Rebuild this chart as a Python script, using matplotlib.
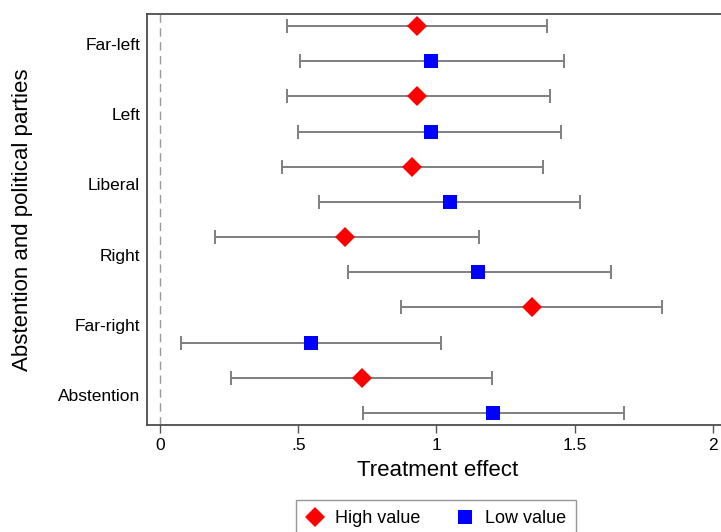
import matplotlib
matplotlib.use("Agg")
import matplotlib.pyplot as plt
import numpy as np

plt.rcParams['font.family'] = ['Liberation Sans', 'DejaVu Sans']

categories = ["Abstention", "Far-right", "Right", "Liberal", "Left", "Far-left"]
high_est = [0.732, 1.344, 0.67, 0.91, 0.93, 0.93]
high_lo = [0.256, 0.87, 0.20, 0.44, 0.46, 0.46]
high_hi = [1.20, 1.817, 1.155, 1.385, 1.41, 1.40]
low_est = [1.205, 0.546, 1.15, 1.05, 0.98, 0.98]
low_lo = [0.733, 0.075, 0.68, 0.575, 0.50, 0.505]
low_hi = [1.678, 1.016, 1.63, 1.52, 1.45, 1.46]
xticks = [0, 0.5, 1, 1.5, 2]
xticklabels = ["0", ".5", "1", "1.5", "2"]

W, H = 721, 532
fig = plt.figure(figsize=(W/100, H/100), dpi=100)
ax = fig.add_axes([147/W, 1-425/H, (724-147)/W, (425-14)/H])

pos = np.arange(len(categories))
off = 0.25
ecol = '#7f7f7f'

ax.axvline(0, color='#999999', ls=(0, (6, 4)), lw=1.0, zorder=1)

hy = pos + off
ly = pos - off
ax.errorbar(high_est, hy, xerr=[np.array(high_est)-np.array(high_lo), np.array(high_hi)-np.array(high_est)],
            fmt='none', ecolor=ecol, elinewidth=1.4, capsize=4.7, capthick=1.4, zorder=2)
ax.errorbar(low_est, ly, xerr=[np.array(low_est)-np.array(low_lo), np.array(low_hi)-np.array(low_est)],
            fmt='none', ecolor=ecol, elinewidth=1.4, capsize=4.7, capthick=1.4, zorder=2)
ax.plot(high_est, hy, 'D', color='#ff0000', markersize=10.5, markeredgewidth=0, zorder=3, label='High value')
ax.plot(low_est, ly, 's', color='#0000ff', markersize=10.5, markeredgewidth=0, zorder=3, label='Low value')

ax.set_xlim(-0.047, 2.04)
ax.set_ylim(-0.42, 5.42)
ax.set_yticks(pos)
ax.set_yticklabels(categories, fontsize=12.5)
ax.set_xticks(xticks)
ax.set_xticklabels(xticklabels, fontsize=12.5)
ax.tick_params(axis='y', length=0, pad=5)
ax.tick_params(axis='x', length=6, width=1.0, color='#555555', pad=3)
for s in ax.spines.values():
    s.set_color('#4d4d4d')
    s.set_linewidth(1.3)

ax.set_xlabel("Treatment effect", fontsize=16)
ax.xaxis.set_label_coords(0.503, -0.085)
ax.set_ylabel("Abstention and political parties", fontsize=16)
ax.yaxis.set_label_coords(-0.197, 0.5)

leg = fig.legend(loc='upper center', bbox_to_anchor=(436/W, 1-500/H), ncol=2, fontsize=13,
                 frameon=True, fancybox=False, edgecolor='#7f7f7f', handlelength=1.0,
                 handletextpad=0.6, columnspacing=2.0, borderpad=0.55, borderaxespad=0)
leg.get_frame().set_linewidth(1.0)

fig.savefig("out.png", dpi=100)
